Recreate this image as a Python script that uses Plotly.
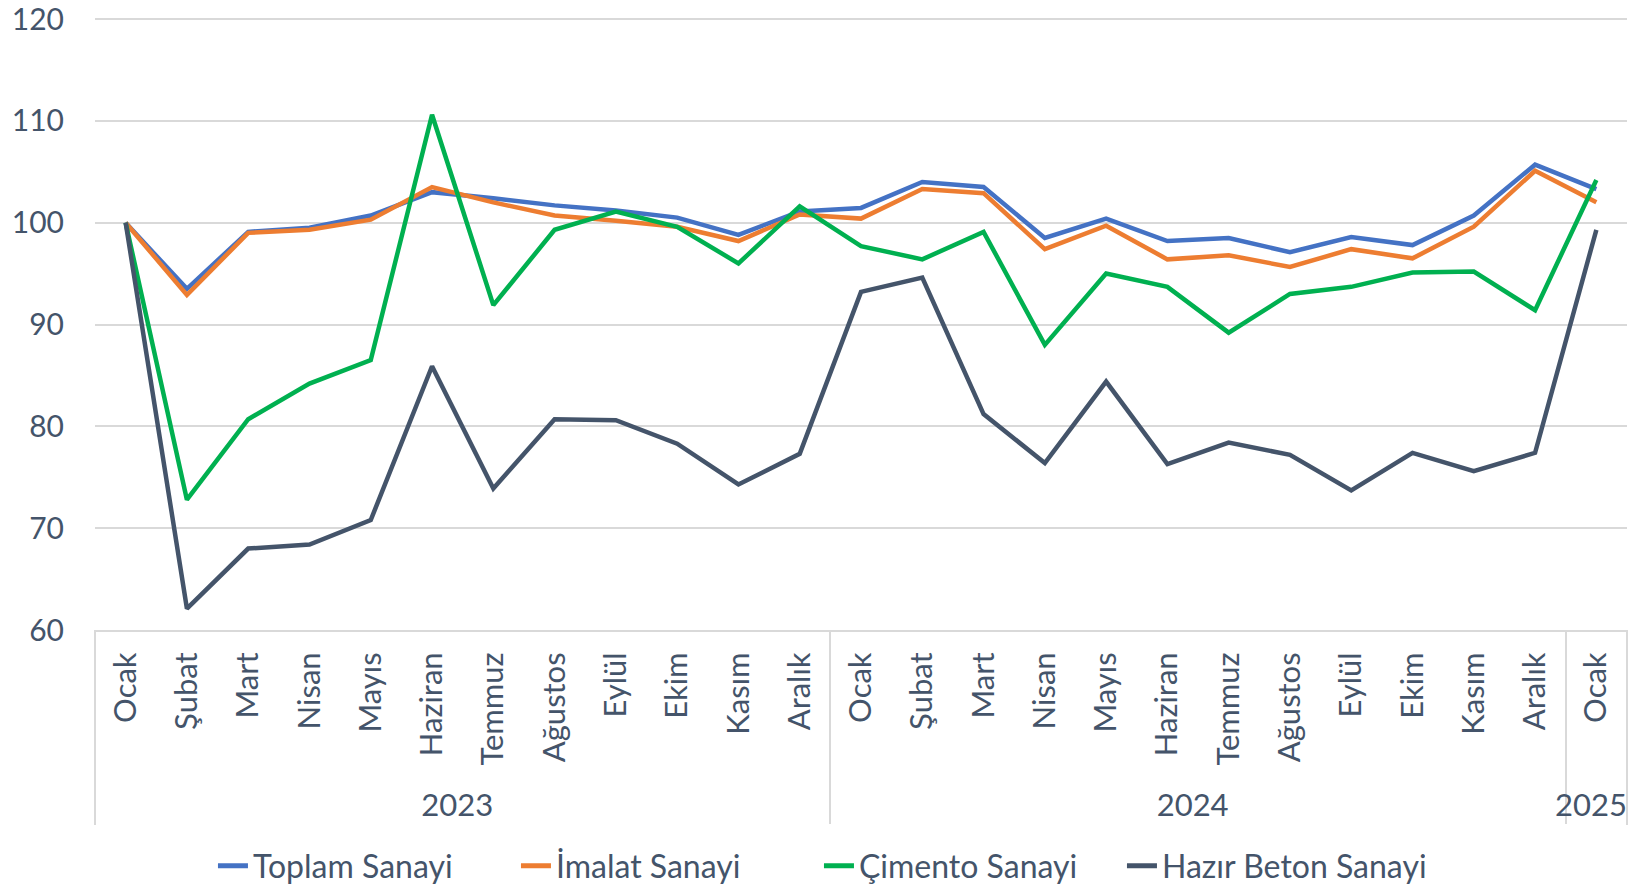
import plotly.graph_objects as go

months = ["Ocak", "Şubat", "Mart", "Nisan", "Mayıs", "Haziran", "Temmuz", "Ağustos",
          "Eylül", "Ekim", "Kasım", "Aralık",
          "Ocak", "Şubat", "Mart", "Nisan", "Mayıs", "Haziran", "Temmuz", "Ağustos",
          "Eylül", "Ekim", "Kasım", "Aralık",
          "Ocak"]
years = ["2023"] * 12 + ["2024"] * 12 + ["2025"]

toplam = [100, 93.5, 99.1, 99.5, 100.7, 103.0, 102.4, 101.7, 101.2, 100.5, 98.8, 101.1,
          101.45, 104.0, 103.5, 98.5, 100.4, 98.2, 98.5, 97.1, 98.6, 97.8, 100.7, 105.7,
          103.3]
imalat = [100, 92.9, 99.0, 99.3, 100.3, 103.5, 102.0, 100.7, 100.2, 99.6, 98.2, 100.8,
          100.4, 103.3, 102.9, 97.4, 99.7, 96.4, 96.8, 95.65, 97.4, 96.5, 99.6, 105.1,
          102.0]
cimento = [100, 72.8, 80.7, 84.2, 86.5, 110.6, 91.9, 99.3, 101.1, 99.6, 96.0, 101.6,
           97.7, 96.4, 99.1, 88.0, 95.0, 93.7, 89.2, 93.0, 93.7, 95.1, 95.2, 91.4,
           104.2]
beton = [100, 62.1, 68.0, 68.4, 70.8, 85.9, 73.9, 80.7, 80.6, 78.3, 74.3, 77.3,
         93.2, 94.6, 81.2, 76.4, 84.4, 76.3, 78.4, 77.2, 73.7, 77.4, 75.6, 77.4,
         99.3]

series = [
    ("Toplam Sanayi", toplam, "#4472C4"),
    ("İmalat Sanayi", imalat, "#ED7D31"),
    ("Çimento Sanayi", cimento, "#00B050"),
    ("Hazır Beton Sanayi", beton, "#44546A"),
]

text_color = "#44546A"
grid_color = "#D9D9D9"

fig = go.Figure()
for name, vals, color in series:
    fig.add_trace(go.Scatter(
        x=[years, months], y=vals, mode="lines", name=name,
        line=dict(color=color, width=4.5),
    ))

# edge lines of the category axis (left and right), below the axis line
for xp in (0, 1):
    fig.add_shape(type="line", xref="paper", yref="paper",
                  x0=xp, x1=xp, y0=0, y1=-0.318,
                  line=dict(color=grid_color, width=2))

fig.update_layout(
    width=1633, height=885,
    paper_bgcolor="white", plot_bgcolor="white",
    margin=dict(l=95, r=6, t=17, b=255, autoexpand=False),
    font=dict(family="Lato", color=text_color, size=30),
    showlegend=True,
    legend=dict(orientation="h", x=0.077, xanchor="left", y=-0.385, yanchor="middle",
                font=dict(family="Lato", size=32, color=text_color),
                entrywidth=258, entrywidthmode="pixels",
                itemwidth=30, tracegroupgap=0, itemsizing="constant"),
)

fig.update_yaxes(
    range=[60, 120.2], dtick=10, tick0=60,
    showgrid=True, gridcolor=grid_color, gridwidth=2,
    zeroline=False, showline=False,
    tickfont=dict(family="Lato", size=30, color=text_color),
    ticks="", ticklabelstandoff=30, automargin=False,
    ticklabeloverflow="allow",
)
fig.update_xaxes(
    type="multicategory",
    range=[-0.5, 24.5],
    showline=True, linecolor=grid_color, linewidth=2,
    showgrid=False,
    showdividers=True, dividercolor=grid_color, dividerwidth=2,
    tickangle=-90,
    tickfont=dict(family="Lato", size=31, color=text_color),
    ticks="", ticklabelstandoff=8, automargin=False,
    ticklabeloverflow="allow",
)

fig.write_html("out.html",
               config={"displayModeBar": False},
               post_script="document.body.style.margin='0';document.body.style.overflow='hidden';")
